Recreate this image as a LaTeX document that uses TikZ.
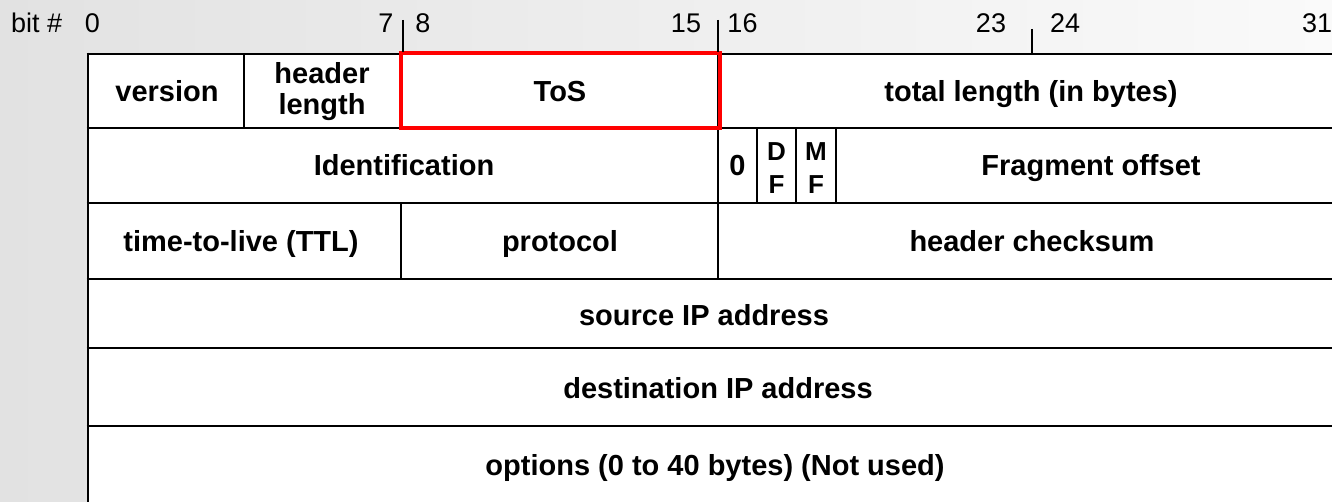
\documentclass[tikz,border=0pt]{standalone}
\usepackage{fontspec}
\setmainfont{Liberation Sans}
\definecolor{bgl}{RGB}{226,226,226}
\definecolor{bgr}{RGB}{250,250,250}
\definecolor{hl}{RGB}{255,0,0}
\begin{document}
\begin{tikzpicture}[x=1pt,y=-1pt,
  grid/.style={line width=2.6pt, black},
  bitmark/.style={line width=1.3pt, black},
  lbl/.style={font=\fontsize{29}{32}\selectfont\bfseries, inner sep=0pt, anchor=base},
  small/.style={font=\fontsize{26}{30}\selectfont\bfseries, inner sep=0pt, anchor=base},
  num/.style={font=\fontsize{27}{30}\selectfont, inner sep=0pt, anchor=base},
  hlbox/.style={draw=hl, line width=4pt}]
\useasboundingbox (0,0) rectangle (1332,502);
\clip (0,0) rectangle (1332,502);
\shade[left color=bgl, right color=bgr] (0,0) rectangle (1332,502);
\fill[white] (88,54) rectangle (1345,520);
% horizontal lines
\foreach \yy in {54,128,203,279,348,426}
  \draw[grid] (86.7,\yy) -- (1345,\yy);
% left border
\draw[grid] (88,52.7) -- (88,520);
% vertical separators
\draw[grid] (244,54) -- (244,128);
\draw[grid] (401,54) -- (401,128);
\draw[grid] (718,54) -- (718,279);
\draw[grid] (757,128) -- (757,203);
\draw[grid] (796,128) -- (796,203);
\draw[grid] (836,128) -- (836,203);
\draw[grid] (401,203) -- (401,279);
% highlighted ToS
\draw[hlbox] (401,53.5) rectangle (720,128.5);
% bit marks
\coordinate (m8t) at (403,20); \coordinate (m8b) at (403,52);
\coordinate (m16t) at (718,20); \coordinate (m16b) at (718,52);
\coordinate (m24t) at (1032,29); \coordinate (m24b) at (1032,53);
\draw[bitmark] (m8t) -- (m8b);
\draw[bitmark] (m16t) -- (m16b);
\draw[bitmark] (m24t) -- (m24b);
% bit numbers
\node[num, anchor=base west] (bit) at (11,33) {bit \#};
\node[num] (b0) at (92.5,33) {0};
\node[num] (b7) at (386,33) {7};
\node[num] (b8) at (423,33) {8};
\node[num] (b15) at (686,33) {15};
\node[num] (b16) at (742.5,33) {16};
\node[num] (b23) at (991,33) {23};
\node[num] (b24) at (1065,33) {24};
\node[num] (b31) at (1317,33) {31};
% row 1
\node[lbl] (version) at (167,102) {version};
\node[lbl] (hdr1) at (322,84) {header};
\node[lbl] (hdr2) at (322,115) {length};
\node[lbl] (tos) at (560,102) {ToS};
\node[lbl] (tlen) at (1031,102) {total length (in bytes)};
% row 2
\node[lbl] (ident) at (404,176) {Identification};
\node[lbl] (zero) at (737.5,176) {0};
\node[small] (df1) at (776.5,161) {D};
\node[small] (df2) at (776.5,194) {F};
\node[small] (mf1) at (816,161) {M};
\node[small] (mf2) at (816,194) {F};
\node[lbl] (frag) at (1091,176) {Fragment offset};
% row 3
\node[lbl] (ttl) at (241,252) {time-to-live (TTL)};
\node[lbl] (proto) at (560,252) {protocol};
\node[lbl] (csum) at (1032,252) {header checksum};
% rows 4-6
\node[lbl] (src) at (704,325) {source IP address};
\node[lbl] (dst) at (718,398) {destination IP address};
\node[lbl] (opt) at (715,475) {options (0 to 40 bytes) (Not used)};
\end{tikzpicture}
\end{document}
